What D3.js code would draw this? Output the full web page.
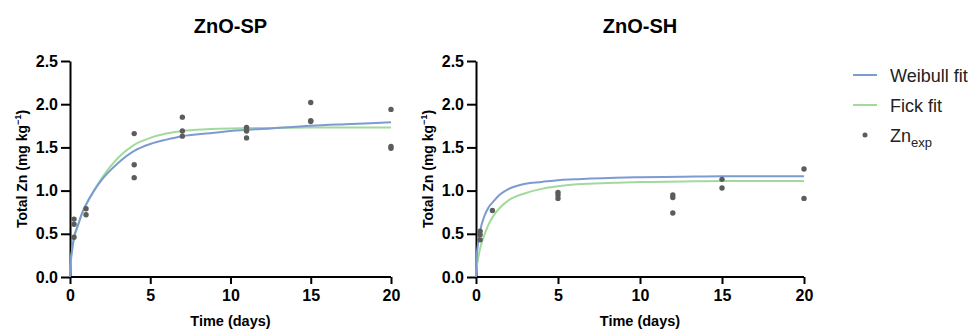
<!DOCTYPE html>
<html>
<head>
<meta charset="utf-8">
<script src="https://cdn.jsdelivr.net/npm/d3@7"></script>
<style>
  body { margin: 0; background: #fff; }
  svg { font-family: "Liberation Sans", Arial, sans-serif; }
</style>
</head>
<body>
<div id="chart"></div>
<script>
// fitted curve sample times (days)
var fitTimes = [0, 0.05, 0.1, 0.25, 0.5, 0.75, 1, 1.5, 2, 3, 4, 5, 6, 7, 8.5, 10, 12.5, 15, 17.5, 20];

// ZnO-SP
var spWeibull = [0, 0.2, 0.28, 0.46, 0.6, 0.74, 0.84, 1.0, 1.13, 1.32, 1.46, 1.54, 1.59, 1.63, 1.66, 1.69, 1.72, 1.75, 1.77, 1.79];
var spFick = [0, 0.16, 0.25, 0.44, 0.6, 0.73, 0.83, 1.0, 1.15, 1.38, 1.53, 1.61, 1.66, 1.69, 1.71, 1.72, 1.725, 1.73, 1.73, 1.73];
var spTimes = [0.25, 0.25, 0.25, 1, 1, 4, 4, 4, 7, 7, 7, 11, 11, 11, 15, 15, 15, 20, 20, 20];
var spZn = [0.67, 0.61, 0.46, 0.79, 0.72, 1.66, 1.30, 1.15, 1.85, 1.69, 1.63, 1.73, 1.69, 1.61, 2.02, 1.81, 1.80, 1.94, 1.51, 1.49];

// ZnO-SH
var shWeibull = [0, 0.25, 0.35, 0.53, 0.7, 0.8, 0.86, 0.96, 1.02, 1.08, 1.1, 1.12, 1.13, 1.14, 1.15, 1.155, 1.16, 1.165, 1.165, 1.165];
var shFick = [0, 0.12, 0.18, 0.33, 0.48, 0.6, 0.69, 0.81, 0.89, 0.97, 1.02, 1.05, 1.07, 1.08, 1.09, 1.1, 1.105, 1.11, 1.11, 1.11];
var shTimes = [0.25, 0.25, 0.25, 1, 5, 5, 5, 12, 12, 12, 15, 15, 20, 20];
var shZn = [0.53, 0.49, 0.43, 0.77, 0.98, 0.95, 0.91, 0.95, 0.92, 0.74, 1.13, 1.03, 1.25, 0.91];

var xTicks = [0, 5, 10, 15, 20];
var yTicks = [0, 0.5, 1.0, 1.5, 2.0, 2.5];

var blue = "#7b9bd2", green = "#a2da9c", dotColor = "#5c5c5c";

var svg = d3.select("#chart")
    .append("svg")
    .attr("width", 972)
    .attr("height", 330);

function drawPanel(opt) {
    var x = d3.scaleLinear().domain([0, 20]).range([opt.left, opt.right]);
    var y = d3.scaleLinear().domain([0, 2.5]).range([277, 61]);

    var g = svg.append("g");

    // title
    g.append("text")
        .attr("x", (opt.left + opt.right) / 2)
        .attr("y", 33)
        .attr("text-anchor", "middle")
        .style("font-size", "20px")
        .style("font-weight", "bold")
        .text(opt.title);

    // axes
    var ax = g.append("g")
        .attr("transform", "translate(0,277)")
        .call(d3.axisBottom(x).tickValues(xTicks).tickSize(7).tickPadding(6).tickSizeOuter(0));
    var ay = g.append("g")
        .attr("transform", "translate(" + opt.left + ",0)")
        .call(d3.axisLeft(y).tickValues(yTicks).tickSize(9).tickPadding(3).tickSizeOuter(0)
            .tickFormat(d3.format(".1f")));
    [ax, ay].forEach(function (a) {
        a.attr("font-size", null).attr("font-family", null);
        a.selectAll("path, line").attr("stroke", "#000").attr("stroke-width", 2);
        a.selectAll("text")
            .attr("fill", "#000")
            .style("font-size", "16px")
            .style("font-weight", "bold");
    });
    ax.select(".domain").attr("d", "M" + (opt.left - 1) + ",0H" + opt.right);

    // axis titles
    g.append("text")
        .attr("x", (opt.left + opt.right) / 2)
        .attr("y", 326)
        .attr("text-anchor", "middle")
        .style("font-size", "14.5px")
        .style("font-weight", "bold")
        .text("Time (days)");

    var yl = g.append("text")
        .attr("transform", "translate(" + (opt.left - 43) + ",169) rotate(-90)")
        .attr("text-anchor", "middle")
        .style("font-size", "14px")
        .style("font-weight", "bold");
    yl.append("tspan").text("Total Zn (mg kg");
    yl.append("tspan").attr("dy", -6).style("font-size", "9px").text("\u22121");
    yl.append("tspan").attr("dy", 6).text(")");

    // fitted lines
    var line = d3.line()
        .x(function (d) { return x(d[0]); })
        .y(function (d) { return y(d[1]); })
        .curve(d3.curveMonotoneX);

    g.append("path")
        .datum(d3.zip(fitTimes, opt.fick))
        .attr("fill", "none")
        .attr("stroke", green)
        .attr("stroke-width", 2)
        .attr("d", line);
    g.append("path")
        .datum(d3.zip(fitTimes, opt.weibull))
        .attr("fill", "none")
        .attr("stroke", blue)
        .attr("stroke-width", 2)
        .attr("d", line);

    // experimental points
    g.selectAll("circle.pt")
        .data(d3.zip(opt.times, opt.zn))
        .enter().append("circle")
        .attr("class", "pt")
        .attr("cx", function (d) { return x(d[0]); })
        .attr("cy", function (d) { return y(d[1]); })
        .attr("r", 2.7)
        .attr("fill", dotColor);
}

drawPanel({ title: "ZnO-SP", left: 70, right: 391, weibull: spWeibull, fick: spFick, times: spTimes, zn: spZn });
drawPanel({ title: "ZnO-SH", left: 476, right: 804, weibull: shWeibull, fick: shFick, times: shTimes, zn: shZn });

// legend
var legend = svg.append("g").style("font-size", "18px");
var items = [
    { name: "Weibull fit", color: blue, type: "line" },
    { name: "Fick fit", color: green, type: "line" },
    { name: "Zn", sub: "exp", color: dotColor, type: "dot" }
];
items.forEach(function (it, i) {
    var yy = 75 + i * 30;
    if (it.type === "line") {
        legend.append("line")
            .attr("x1", 853).attr("x2", 877)
            .attr("y1", yy).attr("y2", yy)
            .attr("stroke", it.color).attr("stroke-width", 2);
    } else {
        legend.append("circle")
            .attr("cx", 865).attr("cy", yy)
            .attr("r", 2.5).attr("fill", it.color);
    }
    var t = legend.append("text")
        .attr("x", 890).attr("y", yy + 6.5)
        .attr("fill", "#222");
    t.append("tspan").text(it.name);
    if (it.sub) {
        t.append("tspan").attr("dy", 5).style("font-size", "13px").text(it.sub);
    }
});
</script>
</body>
</html>
